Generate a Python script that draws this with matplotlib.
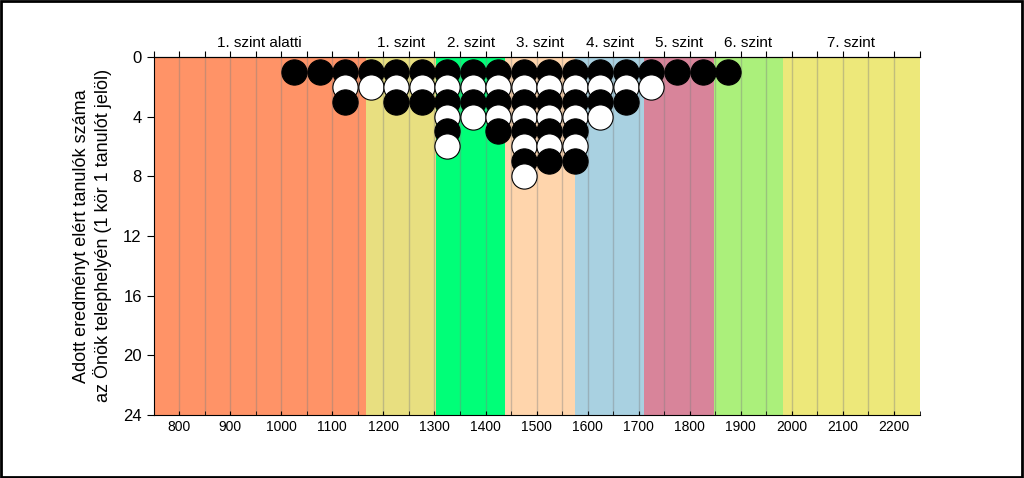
import matplotlib.pyplot as plt

# szintek határai és színei
level_names = ['1. szint alatti', '1. szint', '2. szint', '3. szint',
               '4. szint', '5. szint', '6. szint', '7. szint']
level_edges = [750, 1165, 1303, 1439, 1575, 1711, 1847, 1983, 2250]
level_colors = ['#FF9367', '#E8DF80', '#00FF78', '#FFD5AC',
                '#A9D1E1', '#D8849A', '#ABF07B', '#EDE87A']

# tanulók száma pontszám-sávonként (50 pontos sávok közepe)
bin_centers = [1025, 1075, 1125, 1175, 1225, 1275, 1325, 1375, 1425,
               1475, 1525, 1575, 1625, 1675, 1725, 1775, 1825, 1875]
student_counts = [1, 1, 3, 2, 3, 3, 6, 4, 5, 8, 7, 7, 4, 3, 2, 1, 1, 1]

plt.rcParams['font.family'] = ['Liberation Sans', 'DejaVu Sans']

fig = plt.figure(figsize=(10.24, 4.78), dpi=100)
ax = fig.add_axes([0.150, 0.132, 0.748, 0.749])

# háttérsávok
for i in range(len(level_names)):
    ax.axvspan(level_edges[i], level_edges[i + 1], color=level_colors[i], lw=0, zorder=0)
    ax.text((level_edges[i] + level_edges[i + 1]) / 2, 1.018, level_names[i],
            transform=ax.get_xaxis_transform(), ha='center', va='bottom', fontsize=11)

# függőleges rácsvonalak
for x in range(800, 2250, 50):
    ax.axvline(x, color='#808080', alpha=0.4, lw=1.0, zorder=1)

# körök: oszloponként alulról felfelé, felváltva fekete/fehér
for xc, n in zip(bin_centers, student_counts):
    for k in range(1, n + 1):
        face = 'black' if k % 2 == 1 else 'white'
        ax.scatter([xc], [k], s=330, c=face, edgecolors='black', linewidths=0.8, zorder=2 + k)

ax.set_xlim(750, 2250)
ax.set_ylim(24, 0)
ax.set_yticks(range(0, 25, 4))
ax.set_xticks(range(800, 2201, 100))
ax.set_xticks(range(750, 2251, 50), minor=True)
ax.tick_params(axis='y', labelsize=12, direction='out', length=5)
ax.tick_params(axis='x', which='both', labelsize=10, direction='in', length=3)

# felső tengely kifelé álló jelekkel
top = ax.secondary_xaxis('top')
top.set_xticks(range(750, 2251, 50))
top.set_xticklabels([])
top.tick_params(direction='out', length=4)

ax.spines['right'].set_visible(False)

ax.set_ylabel('Adott eredményt elért tanulók száma\naz Önök telephelyén (1 kör 1 tanulót jelöl)',
              fontsize=13, labelpad=8)

# keret a kép körül
fig.patches.append(plt.Rectangle((0.001, 0.002), 0.997, 0.996, transform=fig.transFigure,
                                 fill=False, edgecolor='black', lw=2))

fig.savefig('out.png', dpi=100)
